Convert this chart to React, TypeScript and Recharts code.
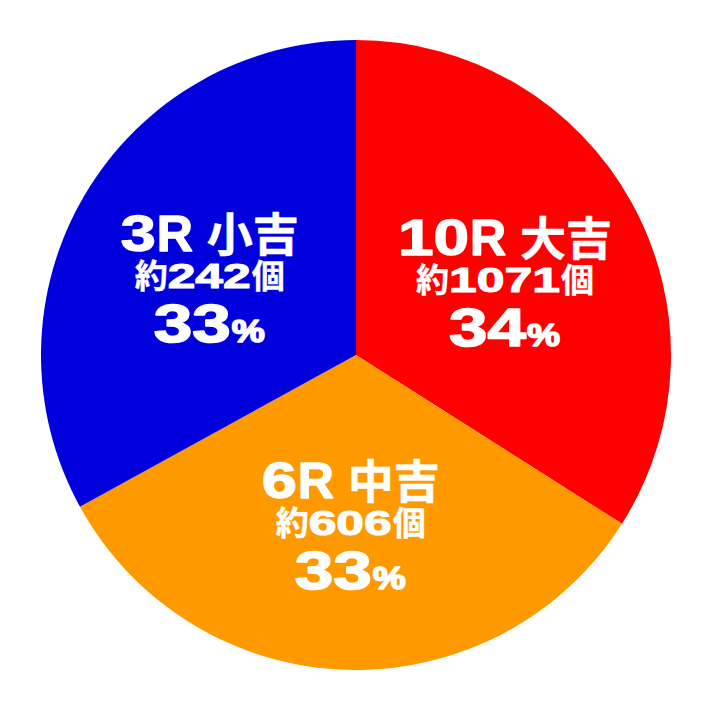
import React from 'react';
import { PieChart, Pie, Cell } from 'recharts';

const names = ['10R 大吉', '6R 中吉', '3R 小吉'];
const counts = ['約1071個', '約606個', '約242個'];
const percents = [34, 33, 33];
const colors = ['#FF0000', '#FF9900', '#0000DD'];

const data = names.map((n, i) => ({ name: n, count: counts[i], value: percents[i] }));

const LATIN = "'Liberation Sans', Arial, sans-serif";
const CJK = "'Noto Sans CJK JP', sans-serif";

type LineCfg = { latin: number; cjk: number; digit: number; pctFs: number; pctAdv: number; dy: number; sw: number };

const line1: LineCfg = { latin: 50, cjk: 46, digit: 36, pctFs: 30, pctAdv: 34, dy: -37, sw: 1.4 };
const line2: LineCfg = { latin: 35, cjk: 33, digit: 28, pctFs: 30, pctAdv: 34, dy: 0, sw: 1.1 };
const line3: LineCfg = { latin: 53, cjk: 46, digit: 39, pctFs: 31, pctAdv: 34, dy: 54, sw: 1.6 };

type Kind = 'digit' | 'pct' | 'space' | 'cjk' | 'latin';

function kindOf(ch: string): Kind {
  if (/[0-9]/.test(ch)) return 'digit';
  if (ch === '%') return 'pct';
  if (ch === ' ') return 'space';
  if (ch.charCodeAt(0) > 0x2e80) return 'cjk';
  return 'latin';
}

function charWidth(ch: string, c: LineCfg) {
  const k = kindOf(ch);
  if (k === 'digit') return c.digit;
  if (k === 'pct') return c.pctAdv;
  if (k === 'space') return 0.278 * c.latin;
  if (k === 'cjk') return c.cjk;
  return 0.722 * c.latin;
}

function renderLine(text: string, cx: number, y: number, c: LineCfg, key: string) {
  const chars = Array.from(text);
  // group consecutive digits into runs
  const runs: { s: string; k: Kind }[] = [];
  chars.forEach((ch) => {
    const k = kindOf(ch);
    const last = runs[runs.length - 1];
    if (last && last.k === 'digit' && k === 'digit') last.s += ch;
    else runs.push({ s: ch, k });
  });
  const total = chars.reduce((s, ch) => s + charWidth(ch, c), 0);
  let x = cx - total / 2;
  const out: React.ReactNode[] = [];
  runs.forEach((r, i) => {
    const w = Array.from(r.s).reduce((s, ch) => s + charWidth(ch, c), 0);
    if (r.k !== 'space') {
      const stretch = r.k === 'digit' || r.k === 'pct';
      out.push(
        <text
          key={key + i}
          x={x}
          y={y}
          fill="#fff"
          stroke="#fff"
          strokeWidth={r.k === 'cjk' ? c.sw * 0.4 : c.sw}
          strokeLinejoin="round"
          fontWeight="bold"
          fontFamily={r.k === 'cjk' ? CJK : LATIN}
          fontSize={r.k === 'cjk' ? c.cjk : r.k === 'pct' ? c.pctFs : c.latin}
          textAnchor="start"
          {...(stretch ? { textLength: w - 1, lengthAdjust: 'spacingAndGlyphs' } : {})}
        >
          {r.s}
        </text>
      );
    }
    x += w;
  });
  return out;
}

const RADIAN = Math.PI / 180;
const RX = 170;
const RY = 164;
const DY = 16;

const renderLabel = (props: any) => {
  const { cx, cy, midAngle, index } = props;
  const ax = cx + RX * Math.cos(-midAngle * RADIAN);
  const ay = cy + RY * Math.sin(-midAngle * RADIAN) + DY;
  const d = data[index];
  return (
    <g key={'lbl' + index}>
      {renderLine(d.name, ax, ay + line1.dy, line1, 'a' + index)}
      {renderLine(d.count, ax, ay + line2.dy, line2, 'b' + index)}
      {renderLine(String(d.value) + '%', ax, ay + line3.dy, line3, 'c' + index)}
    </g>
  );
};

export default function App() {
  return (
    <div style={{ position: 'absolute', left: 0, top: 0, width: 712, height: 710, background: '#fff' }}>
      <PieChart width={712} height={710} margin={{ top: 0, right: 0, bottom: 0, left: 0 }}>
        <Pie
          data={data}
          dataKey="value"
          cx={356}
          cy={355}
          outerRadius={315}
          startAngle={90}
          endAngle={-270}
          stroke="none"
          label={renderLabel}
          labelLine={false}
          isAnimationActive={false}
        >
          {data.map((d, i) => (
            <Cell key={i} fill={colors[i]} stroke="none" />
          ))}
        </Pie>
      </PieChart>
    </div>
  );
}
